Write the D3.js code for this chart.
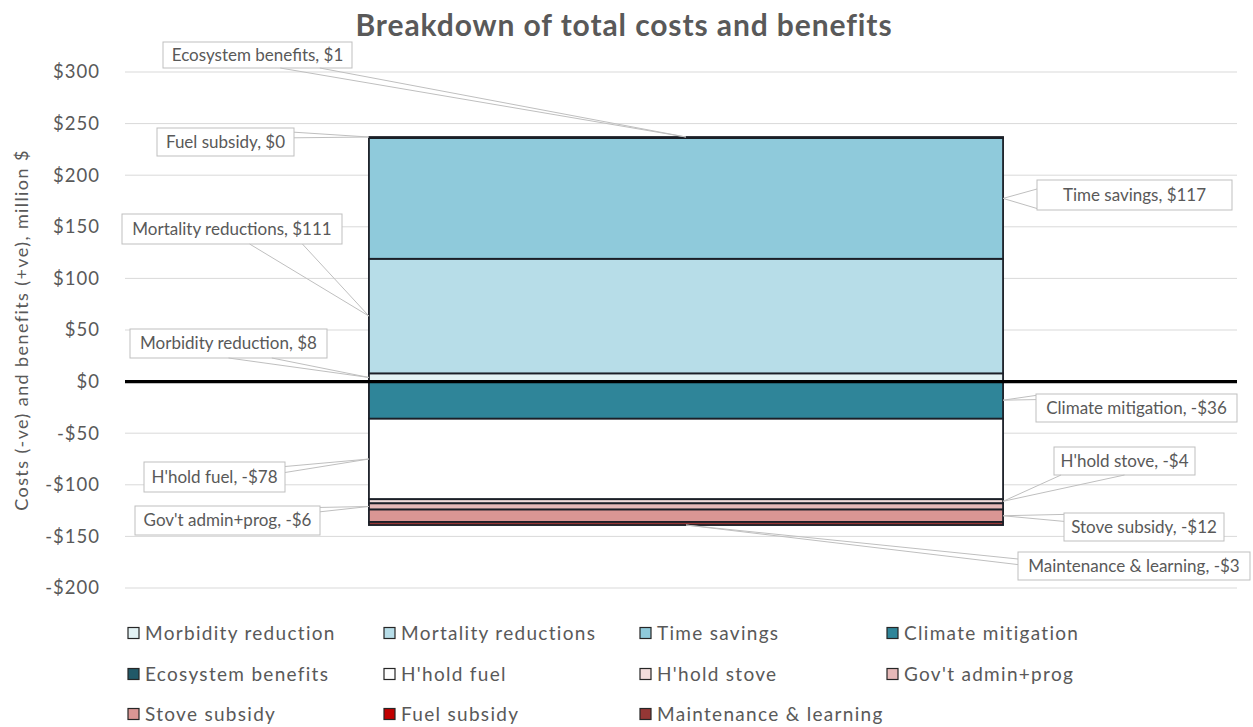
<!DOCTYPE html>
<html><head><meta charset="utf-8">
<script src="https://cdn.jsdelivr.net/npm/d3@7"></script>
<style>
body{margin:0;background:#fff;}
svg{display:block;}
text{font-family:Lato,"Open Sans",sans-serif;fill:#595959;}
</style></head>
<body><svg id="chart" width="1253" height="727"></svg>
<script>
// ---- data ----
const categories = ["Total"];
const seriesNames = ["Morbidity reduction","Mortality reductions","Time savings","Climate mitigation","Ecosystem benefits","H'hold fuel","H'hold stove","Gov't admin+prog","Stove subsidy","Fuel subsidy","Maintenance & learning"];
const seriesValues = [8, 111, 117, -36, 1, -78, -4, -6, -12, 0, -3];
const seriesColors = ["#e3f2f4","#b7dde8","#8fcadb","#2f8599","#215968","#ffffff","#f2dcdb","#e6b9b8","#da9694","#c00000","#953735"];
const tickValues = [-200,-150,-100,-50,0,50,100,150,200,250,300];
const titleText = "Breakdown of total costs and benefits";
const yAxisTitle = "Costs (-ve) and benefits (+ve), million $";

// callout layout (box position in px, which box side the pointer leaves from, and where it points on the bar)
const callouts = [
  {i:4, box:[163,42,189,26], side:"bottom", base:[0.62,0.83], anchor:"center-top"},
  {i:9, box:[157,128,137,28], side:"right", base:[0.15,0.35], anchor:"left-top"},
  {i:2, box:[1037,180,195,30], side:"left", base:[0.3,0.95], anchor:"right"},
  {i:1, box:[122,214,220,30], side:"bottom", base:[0.58,0.82], anchor:"left"},
  {i:0, box:[130,329,197,29], side:"bottom", base:[0.5,0.72], anchor:"left"},
  {i:3, box:[1036,394,201,28], side:"left", base:[0.05,0.2], anchor:"right"},
  {i:5, box:[144,462,141,30], side:"right", base:[0.15,0.35], anchor:"left"},
  {i:6, box:[1054,447,141,28], side:"bottom", base:[0.05,0.5], anchor:"right"},
  {i:7, box:[135,506,185,29], side:"right", base:[0.05,0.2], anchor:"left"},
  {i:8, box:[1064,513,160,28], side:"left", base:[0.05,0.3], anchor:"right"},
  {i:10, box:[1018,552,232,28], side:"left", base:[0.25,0.45], anchor:"center-bottom"}
];

const svg = d3.select("#chart");

const y = d3.scaleLinear().domain([-200,300]).range([588,72]);
const x = d3.scaleBand().domain(categories).range([132,1240]).paddingInner(0.272).paddingOuter(0.272);

const fmt = v => (v < 0 ? "-$" : "$") + Math.abs(v);

// gridlines
svg.append("g").selectAll("line").data(tickValues.filter(t=>t!==0)).join("line")
  .attr("x1",125).attr("x2",1237).attr("y1",d=>y(d)).attr("y2",d=>y(d))
  .attr("stroke","#d9d9d9").attr("stroke-width",1);

// y axis tick labels
const yAxis = d3.axisLeft(y).tickValues(tickValues).tickFormat(fmt).tickSize(0).tickPadding(0);
const ga = svg.append("g").attr("transform","translate(100,0)").call(yAxis);
ga.select(".domain").remove();
ga.selectAll("text").style("font-family","Lato,sans-serif").style("font-size","18.5px")
  .style("letter-spacing","1px").attr("fill","#595959");

// stacked data
const row = {cat: categories[0]};
seriesNames.forEach((n,k)=>row[n]=seriesValues[k]);
const stack = d3.stack().keys(seriesNames).offset(d3.stackOffsetDiverging);
const stacked = stack([row]);

svg.append("g").selectAll("rect").data(stacked).join("rect")
  .attr("x", x(categories[0])).attr("width", x.bandwidth())
  .attr("y", s => y(Math.max(s[0][0], s[0][1])))
  .attr("height", s => Math.abs(y(s[0][0]) - y(s[0][1])))
  .attr("fill", (s,k)=>seriesColors[k])
  .attr("stroke","#1b1f27").attr("stroke-width",1.8);

// zero line
svg.append("line").attr("x1",125).attr("x2",1237).attr("y1",y(0)).attr("y2",y(0))
  .attr("stroke","#000").attr("stroke-width",3.4);

// callouts
const posTop = d3.sum(seriesValues.filter(v=>v>0));
const bx0 = x(categories[0]), bx1 = bx0 + x.bandwidth(), bxc = (bx0+bx1)/2;
const cg = svg.append("g");
callouts.forEach(c=>{
  const s = stacked[c.i][0];
  let mid = (s[0]+s[1])/2;
  if (seriesValues[c.i] === 0) mid = posTop;
  let tx, ty;
  if (c.anchor === "left") {tx = bx0; ty = y(mid);}
  else if (c.anchor === "right") {tx = bx1; ty = y(mid);}
  else if (c.anchor === "left-top") {tx = bx0; ty = y(posTop);}
  else if (c.anchor === "center-top") {tx = bxc; ty = y(s[1]);}
  else {tx = bxc; ty = y(s[0]);}
  const [bx,by,bw,bh] = c.box;
  let p1, p2;
  if (c.side === "bottom") { p1=[bx+bw*c.base[0], by+bh]; p2=[bx+bw*c.base[1], by+bh]; }
  else if (c.side === "top") { p1=[bx+bw*c.base[0], by]; p2=[bx+bw*c.base[1], by]; }
  else if (c.side === "left") { p1=[bx, by+bh*c.base[0]]; p2=[bx, by+bh*c.base[1]]; }
  else { p1=[bx+bw, by+bh*c.base[0]]; p2=[bx+bw, by+bh*c.base[1]]; }
  cg.append("rect").attr("x",bx).attr("y",by).attr("width",bw).attr("height",bh)
    .attr("fill","#fff").attr("stroke","#bfbfbf").attr("stroke-width",1);
  cg.append("path").attr("d", d3.line()([p1,[tx,ty],p2]))
    .attr("fill","none").attr("stroke","#bfbfbf").attr("stroke-width",1);
  cg.append("text").attr("x",bx+bw/2).attr("y",by+bh/2).attr("dy","0.35em")
    .attr("text-anchor","middle").style("font-size","17px")
    .text(seriesNames[c.i] + ", " + fmt(seriesValues[c.i]));
});

// title
svg.append("text").attr("x",624).attr("y",36).attr("text-anchor","middle")
  .style("font-size","30px").style("font-weight","bold").style("letter-spacing","0.9px").text(titleText);

// y axis title
svg.append("text").attr("transform","translate(28,330) rotate(-90)").attr("text-anchor","middle")
  .style("font-size","18px").style("letter-spacing","1.4px").text(yAxisTitle);

// legend
const legCols = [128,384,640,887];
const legRows = [633,674,714];
const lg = svg.append("g");
seriesNames.forEach((n,k)=>{
  const cx = legCols[k%4], cy = legRows[Math.floor(k/4)];
  lg.append("rect").attr("x",cx).attr("y",cy-5.5).attr("width",11).attr("height",11)
    .attr("fill",seriesColors[k]).attr("stroke","#262626").attr("stroke-width",1.2);
  lg.append("text").attr("x",cx+17).attr("y",cy).attr("dy","0.35em")
    .style("font-size","19px").style("letter-spacing","1.3px").text(n);
});
</script></body></html>
